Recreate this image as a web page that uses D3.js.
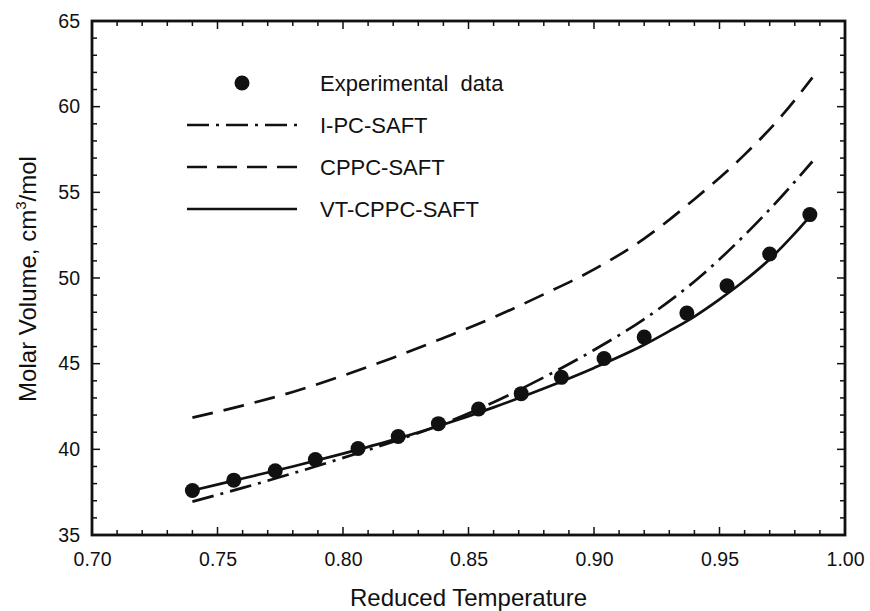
<!DOCTYPE html>
<html><head><meta charset="utf-8">
<script src="https://cdn.jsdelivr.net/npm/d3@7/dist/d3.min.js"></script>
<style>body{margin:0;background:#fff}svg{display:block}text{font-family:"Liberation Sans",Arial,sans-serif;fill:#111}</style>
</head><body><svg id="c" width="870" height="611"></svg>
<script>
// ---- data ----
const expT = [0.740,0.7565,0.773,0.789,0.806,0.822,0.838,0.854,0.871,0.887,0.904,0.920,0.937,0.953,0.970,0.986];
const expV = [37.6,38.2,38.75,39.4,40.05,40.75,41.5,42.35,43.25,44.2,45.3,46.55,47.95,49.55,51.4,53.7];

const curveT = [0.74,0.76,0.78,0.80,0.82,0.84,0.86,0.88,0.90,0.92,0.94,0.96,0.975,0.987];
const ipcV   = [36.95,37.75,38.6,39.5,40.45,41.5,42.75,44.2,45.8,47.6,49.8,52.5,54.8,56.8];
const cppcV  = [41.85,42.55,43.35,44.3,45.35,46.5,47.7,49.05,50.5,52.3,54.6,57.2,59.5,61.7];
const vtT    = [0.74,0.76,0.78,0.80,0.82,0.84,0.86,0.88,0.90,0.92,0.93,0.94,0.95,0.96,0.97,0.98,0.986];
const vtV    = [37.6,38.3,39.0,39.75,40.55,41.45,42.45,43.55,44.75,46.1,46.9,47.75,48.75,49.85,51.1,52.6,53.6];

const xTicks = [0.70,0.75,0.80,0.85,0.90,0.95,1.00];
const yTicks = [35,40,45,50,55,60,65];
const legendLabels = ["Experimental  data","I-PC-SAFT","CPPC-SAFT","VT-CPPC-SAFT"];

// ---- layout ----
const svg = d3.select("#c");
const L=92, R=845, T=21, B=535;
const x = d3.scaleLinear().domain([0.70,1.00]).range([L,R]);
const y = d3.scaleLinear().domain([35,65]).range([B,T]);
const ink = "#111";

const xMinor = d3.range(0.70,1.0001,0.01);
const yMinor = d3.range(35,65.001,1);

// ticks (inward) on all four sides
const g = svg.append("g");
function isMajorX(v){return Math.abs(v*20-Math.round(v*20))<1e-6;}
xMinor.forEach(v=>{
  const len = isMajorX(v)?8:5;
  g.append("line").attr("x1",x(v)).attr("x2",x(v)).attr("y1",B).attr("y2",B-len).attr("stroke",ink).attr("stroke-width",1.5);
  g.append("line").attr("x1",x(v)).attr("x2",x(v)).attr("y1",T).attr("y2",T+len).attr("stroke",ink).attr("stroke-width",1.5);
});
yMinor.forEach(v=>{
  const len = (Math.round(v)%5===0)?8:5;
  g.append("line").attr("y1",y(v)).attr("y2",y(v)).attr("x1",L).attr("x2",L+len).attr("stroke",ink).attr("stroke-width",1.5);
  g.append("line").attr("y1",y(v)).attr("y2",y(v)).attr("x1",R).attr("x2",R-len).attr("stroke",ink).attr("stroke-width",1.5);
});

// tick labels via axes (tick lines hidden)
const xAxis = d3.axisBottom(x).tickValues(xTicks).tickFormat(d3.format(".2f")).tickSize(0).tickPadding(17);
const xa = svg.append("g").attr("transform",`translate(0,${B})`).call(xAxis);
xa.select(".domain").remove();
xa.selectAll("text").attr("font-size",19.5).attr("font-family","Liberation Sans, Arial, sans-serif").attr("fill",ink);
const yAxis = d3.axisLeft(y).tickValues(yTicks).tickFormat(d3.format("d")).tickSize(0).tickPadding(12);
const ya = svg.append("g").attr("transform",`translate(${L},0)`).call(yAxis);
ya.select(".domain").remove();
ya.selectAll("text").attr("font-size",19.5).attr("font-family","Liberation Sans, Arial, sans-serif").attr("fill",ink);

// frame
svg.append("rect").attr("x",L).attr("y",T).attr("width",R-L).attr("height",B-T)
  .attr("fill","none").attr("stroke",ink).attr("stroke-width",2.8);

// curves
const line = d3.line().x(d=>x(d[0])).y(d=>y(d[1])).curve(d3.curveMonotoneX);
const dashDot = "22,7,3,7", dashed = "21,11";
svg.append("path").datum(d3.zip(curveT,cppcV)).attr("d",line).attr("fill","none").attr("stroke",ink).attr("stroke-width",2.7).attr("stroke-dasharray",dashed);
svg.append("path").datum(d3.zip(curveT,ipcV)).attr("d",line).attr("fill","none").attr("stroke",ink).attr("stroke-width",2.7).attr("stroke-dasharray",dashDot);
svg.append("path").datum(d3.zip(vtT,vtV)).attr("d",line).attr("fill","none").attr("stroke",ink).attr("stroke-width",2.7);

// experimental points
svg.append("g").selectAll("circle").data(d3.zip(expT,expV)).join("circle")
  .attr("cx",d=>x(d[0])).attr("cy",d=>y(d[1])).attr("r",7.5).attr("fill",ink);

// legend
const lg = svg.append("g");
const ly = [83,125,167,209];
lg.append("circle").attr("cx",242).attr("cy",ly[0]).attr("r",7.5).attr("fill",ink);
[["22,7,3,7",1],["20,10",2],[null,3]].forEach(([da,i])=>{
  const p = lg.append("line").attr("x1",187).attr("x2",297).attr("y1",ly[i]).attr("y2",ly[i]).attr("stroke",ink).attr("stroke-width",2.7);
  if(da) p.attr("stroke-dasharray",da);
});
legendLabels.forEach((t,i)=>{
  lg.append("text").attr("x",320).attr("y",ly[i]+7.5).attr("font-size",22).attr("xml:space","preserve").style("white-space","pre").text(t);
});

// axis titles
svg.append("text").attr("x",(L+R)/2).attr("y",606).attr("text-anchor","middle").attr("font-size",24).text("Reduced Temperature");
const yt = svg.append("text").attr("transform","translate(36,279) rotate(-90)").attr("text-anchor","middle").attr("font-size",24);
yt.append("tspan").text("Molar Volume, cm");
yt.append("tspan").attr("font-size",15).attr("dy",-10).text("3");
yt.append("tspan").attr("dy",10).text("/mol");
</script></body></html>
